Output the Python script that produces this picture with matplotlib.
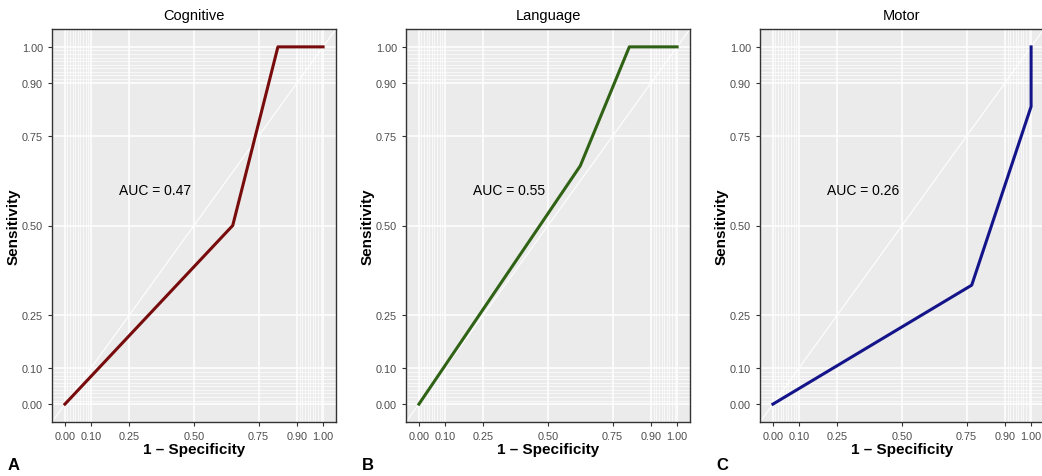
import numpy as np
import matplotlib
matplotlib.use("Agg")
import matplotlib.pyplot as plt

plt.rcParams['font.family'] = ['Liberation Sans', 'DejaVu Sans']

# ROC curves
titles = ["Cognitive", "Language", "Motor"]
panel_tags = ["A", "B", "C"]
auc_text = ["AUC = 0.47", "AUC = 0.55", "AUC = 0.26"]
fpr = [
    [0.0, 0.65, 0.825, 1.0],
    [0.0, 0.625, 0.815, 1.0],
    [0.0, 0.77, 1.0, 1.0],
]
tpr = [
    [0.0, 0.5, 1.0, 1.0],
    [0.0, 0.667, 1.0, 1.0],
    [0.0, 0.333, 0.833, 1.0],
]
colors = ["#780c0c", "#2f6214", "#14148a"]

major = [0, 0.1, 0.25, 0.5, 0.75, 0.9, 1.0]
tick_labels = ["0.00", "0.10", "0.25", "0.50", "0.75", "0.90", "1.00"]
minor = list(np.arange(0.01, 0.1, 0.01)) + list(np.arange(0.91, 1.0, 0.01))

fig = plt.figure(figsize=(10.42, 4.77), dpi=100)

lefts = [52, 406, 760]
W, H = 1042, 477
for i in range(3):
    ax = fig.add_axes([lefts[i] / W, 1 - 423 / H, 284 / W, 393 / H])
    ax.set_facecolor("#ebebeb")
    ax.set_xlim(-0.05, 1.05)
    ax.set_ylim(-0.05, 1.05)
    for v in minor:
        ax.axvline(v, color="white", lw=0.5, zorder=0)
        ax.axhline(v, color="white", lw=0.5, zorder=0)
    for v in major:
        ax.axvline(v, color="white", lw=1.1, zorder=0)
        ax.axhline(v, color="white", lw=1.1, zorder=0)
    ax.plot([-0.05, 1.05], [-0.05, 1.05], color="white", lw=0.8, zorder=1)
    ax.plot(fpr[i], tpr[i], color=colors[i], lw=2.2, zorder=3)
    ax.text(0.35, 0.6, auc_text[i], fontsize=10, ha="center", va="center")
    ax.set_xticks(major)
    ax.set_xticklabels(tick_labels)
    ax.set_yticks(major)
    ax.set_yticklabels(tick_labels)
    ax.tick_params(labelsize=7.8, labelcolor="#4d4d4d", color="#333333",
                   length=3, width=0.8)
    for s in ax.spines.values():
        s.set_color("#333333")
        s.set_linewidth(1.0)
    ax.set_title(titles[i], fontsize=10.5, pad=7)
    ax.set_xlabel("1 \u2013 Specificity", fontsize=11, fontweight="bold",
                  labelpad=1)
    ax.set_ylabel("Sensitivity", fontsize=11, fontweight="bold", labelpad=1)
    fig.text((lefts[i] - 44) / W, 1 - 466 / H, panel_tags[i], fontsize=12,
             fontweight="bold", va="center", ha="left")

fig.savefig("out.png", dpi=100)
